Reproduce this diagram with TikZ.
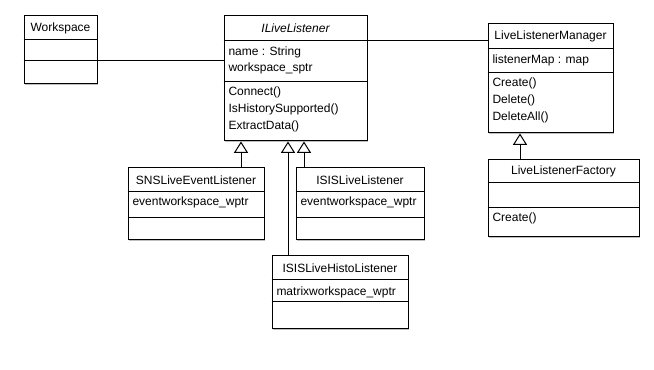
\documentclass[tikz,border=0pt]{standalone}
\usepackage{fontspec}
\setmainfont{Liberation Sans}
\usetikzlibrary{arrows.meta}
\usetikzlibrary{fit}
\usetikzlibrary{shadows}

\begin{document}
\begin{tikzpicture}[x=0.75pt, y=-0.75pt, line width=0.75pt,
    cls/.style={draw, fill=white, inner sep=0pt,
        drop shadow={shadow xshift=1pt, shadow yshift=-1pt, opacity=0.25, fill=black}},
    title/.style={inner sep=0pt, font=\fontsize{9}{10}\selectfont},
    member/.style={anchor=west, inner sep=0pt, font=\fontsize{9}{10}\selectfont},
    inherit/.style={-{Triangle[open, length=8.5pt, width=10.5pt]}}]
        \useasboundingbox (0,0) rectangle (654,370);

        % class boxes
        \node[cls, fit={(24,16) (97,84)}] (ws) {};
        \node[cls, fit={(224,16) (367,141)}] (ill) {};
        \node[cls, fit={(488,24) (613,133)}] (llm) {};
        \node[cls, fit={(488,160) (639,237)}] (llf) {};
        \node[cls, fit={(128,168) (264,240)}] (sns) {};
        \node[cls, fit={(296,168) (424,240)}] (isis) {};
        \node[cls, fit={(272,256) (408,329)}] (histo) {};

        % compartment lines
        \foreach \c/\ya/\yb in {ws/40/61, ill/41/82, llm/49/73, llf/183/208,
                                sns/192/218, isis/192/218, histo/280/302} {
            \draw (\c.west |- 0,\ya) coordinate (\c-a) -- (\c.east |- 0,\ya);
            \draw (\c.west |- 0,\yb) coordinate (\c-b) -- (\c.east |- 0,\yb);
        }

        % names
        \node[title] at (ws.north |- 0,28) {Workspace};
        \node[title] at (ill.north |- 0,28.5) {\itshape ILiveListener};
        \node[title] at (llm.north |- 0,36.5) {LiveListenerManager};
        \node[title] at (llf.north |- 0,171.5) {LiveListenerFactory};
        \node[title] at (sns.north |- 0,180) {SNSLiveEventListener};
        \node[title] at (isis.north |- 0,180) {ISISLiveListener};
        \node[title] at (histo.north |- 0,268) {ISISLiveHistoListener};

        % attributes and operations
        \node[member] at (228,52) {name : String};
        \node[member] at (228,68) {workspace\_sptr};
        \node[member] at (228,92) {Connect()};
        \node[member] at (228,109) {IsHistorySupported()};
        \node[member] at (228,126) {ExtractData()};
        \node[member] at (492,60) {listenerMap : map};
        \node[member] at (492,83) {Create()};
        \node[member] at (492,100) {Delete()};
        \node[member] at (492,117) {DeleteAll()};
        \node[member] at (492,218) {Create()};
        \node[member] at (132,202) {eventworkspace\_wptr};
        \node[member] at (300,202) {eventworkspace\_wptr};
        \node[member] at (276,292) {matrixworkspace\_wptr};

        % associations
        \draw (ws-b -| ws.east) -- (ws-b -| ill.west);
        \draw (ill-a -| ill.east) -- (ill-a -| llm.west);

        % generalisations
        \draw[inherit] (sns.north -| 241,0) -- (ill.south -| 241,0);
        \draw[inherit] (isis.north -| 304,0) -- (ill.south -| 304,0);
        \draw[inherit] (histo.north -| 288,0) -- (ill.south -| 288,0);
        \draw[inherit] (llf.north -| 520,0) -- (llm.south -| 520,0);
\end{tikzpicture}
\end{document}
